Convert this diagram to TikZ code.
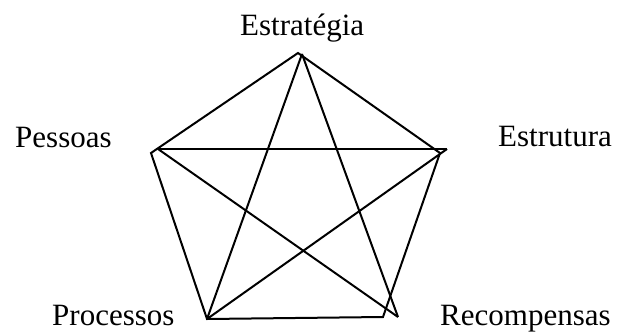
\documentclass[tikz,border=0pt]{standalone}
\usepackage{fontspec}
\setmainfont{Liberation Serif}
\begin{document}
\begin{tikzpicture}[x=1pt,y=-1pt,
  lbl/.style={inner sep=0pt,anchor=base west,font=\fontsize{31}{31}\selectfont},
  edge/.style={line width=2pt,line join=miter,line cap=butt}]
\useasboundingbox (0,0) rectangle (619,335);
% pentagon corners
\coordinate (T) at (298,53);
\coordinate (L) at (151,153);
\coordinate (R) at (440,153);
\coordinate (BL) at (207,319);
\coordinate (BR) at (383,317);
% star corners
\coordinate (ST) at (302,54);
\coordinate (SL) at (158,149);
\coordinate (SR) at (447,149);
\coordinate (SBR) at (398,317);
% labels
\node[lbl] (estrategia) at (240,35) {Estratégia};
\node[lbl] (pessoas) at (15,147) {Pessoas};
\node[lbl] (estrutura) at (498,146) {Estrutura};
\node[lbl] (processos) at (52,325) {Processos};
\node[lbl] (recompensas) at (440,325) {Recompensas};
% pentagon
\draw[edge] (T) -- (R) -- (BR) -- (BL) -- (L) -- cycle;
% star
\draw[edge] (ST) -- (BL);
\draw[edge] (ST) -- (SBR);
\draw[edge] (SL) -- (SR);
\draw[edge] (SL) -- (SBR);
\draw[edge] (SR) -- (BL);
\end{tikzpicture}
\end{document}
